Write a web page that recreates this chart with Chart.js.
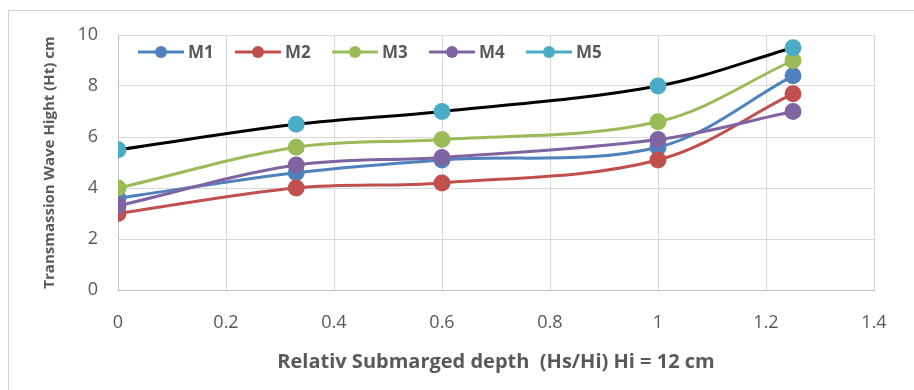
<!DOCTYPE html>
<html>
<head>
<meta charset="utf-8">
<script src="https://cdn.jsdelivr.net/npm/chart.js@4.4.1/dist/chart.umd.min.js"></script>
<style>
  html, body { margin: 0; padding: 0; background: #fff; }
  #wrap { position: relative; width: 914px; height: 390px; }
</style>
</head>
<body>
<div id="wrap"><canvas id="waveChart"></canvas></div>
<script>
// relative submerged depth (Hs/Hi)
var depth = [0, 0.33, 0.6, 1, 1.25];

// transmitted wave height per model, cm
var m1 = [3.6, 4.6, 5.1, 5.6, 8.4];
var m2 = [3.0, 4.0, 4.2, 5.1, 7.7];
var m3 = [4.0, 5.6, 5.9, 6.6, 9.0];
var m4 = [3.3, 4.9, 5.2, 5.9, 7.0];
var m5 = [5.5, 6.5, 7.0, 8.0, 9.5];

var names = ['M1', 'M2', 'M3', 'M4', 'M5'];
var series = [m1, m2, m3, m4, m5];
var colours = ['#4F81BD', '#C0504D', '#9BBB59', '#8064A2', '#4BACC6'];
var lineColours = ['#4F81BD', '#C0504D', '#9BBB59', '#8064A2', '#000000'];

var xTicks = [0, 0.2, 0.4, 0.6, 0.8, 1, 1.2, 1.4];
var yTicks = [0, 2, 4, 6, 8, 10];

var FONT = '"Open Sans", sans-serif';
var GREY = '#595959';

var datasets = series.map(function (vals, i) {
    return {
        label: names[i],
        data: vals.map(function (v, j) { return { x: depth[j], y: v }; }),
        borderColor: lineColours[i],
        backgroundColor: colours[i],
        pointBackgroundColor: colours[i],
        pointBorderColor: colours[i],
        pointRadius: 7,
        pointHoverRadius: 7,
        borderWidth: 3,
        tension: 0.35,
        showLine: true,
        order: names.length - i
    };
});

// frame around the whole chart
var frame = {
    id: 'frame',
    beforeDraw: function (chart) {
        var c = chart.ctx;
        c.save();
        c.fillStyle = '#fff';
        c.fillRect(0, 0, chart.width, chart.height);
        c.strokeStyle = '#D0D0D0';
        c.lineWidth = 1;
        c.strokeRect(8.5, 10.5, chart.width, chart.height);
        c.restore();
    }
};

// legend row sitting inside the plot, line + marker like the series
var innerLegend = {
    id: 'innerLegend',
    afterDraw: function (chart) {
        var c = chart.ctx;
        var area = chart.chartArea;
        var y = area.top + 17;
        var x = area.left + 20;
        c.save();
        c.font = 'bold 17px ' + FONT;
        c.textBaseline = 'middle';
        chart.data.datasets.forEach(function (ds, i) {
            var col = colours[i];
            c.strokeStyle = col;
            c.lineWidth = 3;
            c.beginPath();
            c.moveTo(x, y);
            c.lineTo(x + 46, y);
            c.stroke();
            c.fillStyle = col;
            c.beginPath();
            c.arc(x + 23, y, 6, 0, Math.PI * 2);
            c.fill();
            c.fillStyle = GREY;
            c.fillText(ds.label, x + 50, y + 1);
            x += 97;
        });
        c.restore();
    }
};

new Chart(document.getElementById('waveChart'), {
    type: 'scatter',
    data: { datasets: datasets },
    plugins: [frame, innerLegend],
    options: {
        responsive: true,
        maintainAspectRatio: false,
        animation: false,
        layout: { padding: { top: 35, right: 40, left: 0, bottom: 0 } },
        plugins: {
            legend: { display: false },
            tooltip: { enabled: false }
        },
        scales: {
            x: {
                type: 'linear',
                min: 0,
                max: 1.4,
                afterBuildTicks: function (s) {
                    s.ticks = xTicks.map(function (v) { return { value: v }; });
                },
                afterFit: function (s) { s.height = 100; },
                grid: { color: '#D9D9D9', lineWidth: 1, drawTicks: false },
                border: { color: '#BFBFBF' },
                ticks: {
                    color: GREY,
                    padding: 22,
                    font: { family: FONT, size: 18 },
                    callback: function (v) { return String(v); }
                },
                title: {
                    display: true,
                    text: 'Relativ Submarged depth  (Hs/Hi) Hi = 12 cm',
                    color: GREY,
                    font: { family: FONT, size: 20, weight: 'bold' },
                    padding: { top: 0, bottom: 16 }
                }
            },
            y: {
                min: 0,
                max: 10,
                afterBuildTicks: function (s) {
                    s.ticks = yTicks.map(function (v) { return { value: v }; });
                },
                afterFit: function (s) { s.width = 118; },
                grid: { color: '#D9D9D9', lineWidth: 1, drawTicks: false },
                border: { color: '#BFBFBF' },
                ticks: {
                    color: GREY,
                    padding: 20,
                    font: { family: FONT, size: 18 }
                },
                title: {
                    display: true,
                    text: 'Transmassion Wave Hight (Ht) cm',
                    color: GREY,
                    font: { family: FONT, size: 15, weight: 'bold' },
                    padding: { top: 41, bottom: 0 }
                }
            }
        }
    }
});
</script>
</body>
</html>
